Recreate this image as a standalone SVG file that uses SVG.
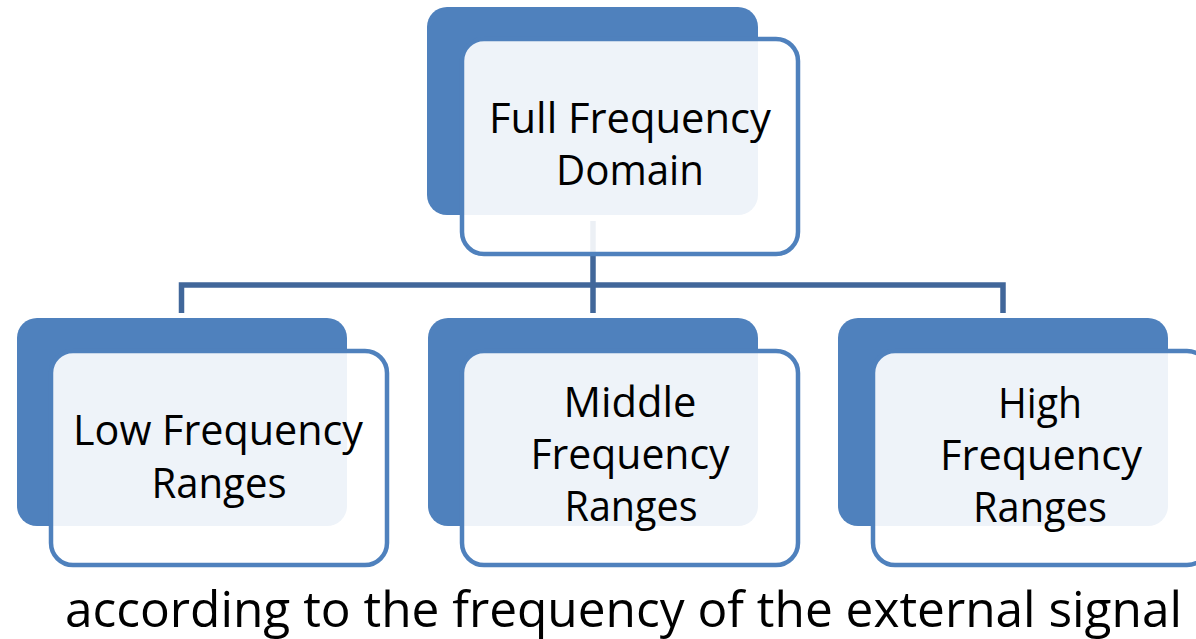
<svg xmlns="http://www.w3.org/2000/svg" width="1196" height="639" viewBox="0 0 1196 639">
  <style>
    .back { fill: #4F81BD; }
    .front { fill: #FFFFFF; fill-opacity: 0.9; stroke: #4F81BD; stroke-width: 4.5; }
    .link { fill: none; stroke: #41679A; stroke-width: 5.5; stroke-linejoin: miter; }
    .label { font-family: "Open Sans", "Noto Sans", "DejaVu Sans", sans-serif; font-size: 42px; fill: #000000; text-anchor: middle; }
    .caption { font-family: "Open Sans", "Noto Sans", "DejaVu Sans", sans-serif; font-size: 48.5px; fill: #000000; text-anchor: middle; }
  </style>

  <!-- tree connectors, drawn under the node cards -->
  <g id="connectors">
    <path class="link" d="M593 221 V313"/>
    <path class="link" d="M181.5 313 V285 H1003 V313"/>
  </g>

  <g id="node-full">
    <rect class="back" x="427" y="7" width="331" height="208" rx="20"/>
    <rect class="front" x="462" y="39" width="336" height="215" rx="22"/>
    <text class="label" x="630" y="133" textLength="282" lengthAdjust="spacingAndGlyphs">Full Frequency</text>
    <text class="label" x="630" y="185" textLength="148" lengthAdjust="spacingAndGlyphs">Domain</text>
  </g>

  <g id="node-low">
    <rect class="back" x="17" y="318" width="330" height="208" rx="20"/>
    <rect class="front" x="51" y="351" width="336" height="214" rx="22"/>
    <text class="label" x="218" y="445" textLength="290" lengthAdjust="spacingAndGlyphs">Low Frequency</text>
    <text class="label" x="219" y="498" textLength="135" lengthAdjust="spacingAndGlyphs">Ranges</text>
  </g>

  <g id="node-middle">
    <rect class="back" x="428" y="318" width="330" height="208" rx="20"/>
    <rect class="front" x="462" y="351" width="336" height="214" rx="22"/>
    <text class="label" x="630" y="417" textLength="133" lengthAdjust="spacingAndGlyphs">Middle</text>
    <text class="label" x="630" y="469" textLength="199" lengthAdjust="spacingAndGlyphs">Frequency</text>
    <text class="label" x="631" y="521" textLength="133" lengthAdjust="spacingAndGlyphs">Ranges</text>
  </g>

  <g id="node-high">
    <rect class="back" x="838" y="318" width="330" height="208" rx="20"/>
    <rect class="front" x="873" y="351" width="336" height="214" rx="22"/>
    <text class="label" x="1040" y="418" textLength="84" lengthAdjust="spacingAndGlyphs">High</text>
    <text class="label" x="1041" y="470" textLength="202" lengthAdjust="spacingAndGlyphs">Frequency</text>
    <text class="label" x="1040" y="522" textLength="134" lengthAdjust="spacingAndGlyphs">Ranges</text>
  </g>

  <text class="caption" x="623.5" y="627" textLength="1117" lengthAdjust="spacingAndGlyphs">according to the frequency of the external signal</text>
</svg>
